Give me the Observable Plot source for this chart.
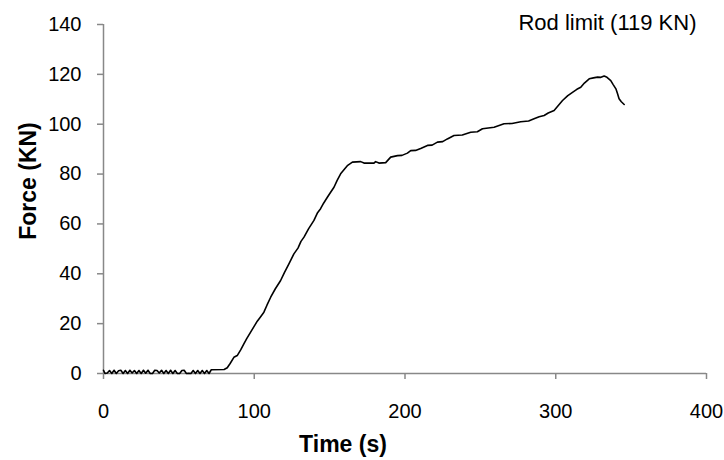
<!DOCTYPE html>
<html>
<head>
<meta charset="utf-8">
<script src="https://cdn.jsdelivr.net/npm/d3@7"></script>
<script src="https://cdn.jsdelivr.net/npm/@observablehq/plot@0.6"></script>
<style>
  html, body { margin: 0; padding: 0; background: #fff; }
</style>
</head>
<body>
<div id="chart"></div>
<script>
const time = [
  0,1,2.5,4,5.5,7,8.5,10,11.5,13,
  14.5,16,17.5,19,20.5,22,23.5,25,26.5,28,
  29.5,31,32.5,34,35.5,37,38.5,40,41.5,43,
  44.5,46,47.5,49,50.5,52,53.5,55,56.5,58,
  59.5,61,62.5,64,65.5,67,68.5,70,71.5,80,
  82.1,84,86.5,88.7,91,93.1,95,97.6,100,102,
  104,106.4,108.5,110.9,114,117.5,120,123,126.3,129,
  131,133,136,139.6,142,144,146,148.5,151,152.9,
  155,157.3,159.5,162,165.1,170.6,172.8,179.4,180.5,182.7,
  187.2,190.5,195,198,201.6,203.8,207,210.4,214.9,218,
  221.5,225,228.1,232.5,238,243.6,248,251.4,259.1,265.7,
  271,276.8,282,285.6,289,292.3,295,298.9,301,304.5,
  308,311.1,314,316.6,319,322.2,325,327.7,330,332.1,
  334,336.5,338,339.9,341,342,343.5,345.4
];
const force = [
  1.3,0,0.2,1.2,0,1.3,0,1.1,1.3,0,
  1.2,0,1.3,0.2,1.2,0,1.2,0,1.3,0.1,
  1.3,0,0,1.3,1.2,0.2,1.3,0,1.2,0,
  1.3,0,1.2,0,0,1.2,1.3,0,0.1,0,
  1.2,0,1.2,0,1.2,0,1.2,0,1.5,1.6,
  2.3,4,6.5,7.2,9.5,11.9,14,16.6,19,21,
  22.6,24.6,27.5,30.6,34,37.3,40.5,44,48,50.3,
  53,54.7,58,61.4,64.5,66.1,68.3,70.7,73,74.7,
  77.5,80.1,81.7,83.5,84.8,85,84.4,84.4,85,84.4,
  84.6,86.8,87.4,87.5,88.4,89.4,89.5,90.3,91.5,91.6,
  92.8,93,94.1,95.5,95.7,96.8,97,98.2,98.8,100.2,
  100.3,101,101.3,102.2,103,103.5,104.5,105.5,107,109.5,
  111.5,112.8,114,114.8,116.5,118.2,118.6,118.9,118.8,119.3,
  118.8,117.5,116,114.2,112.2,110.2,109,107.9
];
const xTicks = [0, 100, 200, 300, 400];
const yTicks = [0, 20, 40, 60, 80, 100, 120, 140];
const xTitle = "Time (s)";
const yTitle = "Force (KN)";
const annotation = "Rod limit (119 KN)";

const data = time.map((t, i) => ({t, f: force[i]}));

const chart = Plot.plot({
  width: 724,
  height: 460,
  marginLeft: 103,
  marginRight: 18,
  marginTop: 24,
  marginBottom: 87,
  style: {fontFamily: "'Liberation Sans', Arial, sans-serif", fontSize: "20px", color: "#000", background: "#fff", overflow: "visible"},
  x: {domain: [0, 400], ticks: xTicks},
  y: {domain: [0, 140], ticks: yTicks},
  marks: [
    Plot.axisX({ticks: xTicks, tickSize: 6, tickPadding: 24, stroke: "#888", strokeWidth: 1.5, fill: "#000", fontSize: 20, label: null}),
    Plot.axisY({ticks: yTicks, tickSize: 6, tickPadding: 16, stroke: "#888", strokeWidth: 1.5, fill: "#000", fontSize: 20, label: null}),
    Plot.ruleX([0], {stroke: "#888", strokeWidth: 1.5}),
    Plot.ruleY([0], {stroke: "#888", strokeWidth: 1.5}),
    Plot.line(data, {x: "t", y: "f", stroke: "#000", strokeWidth: 1.6}),
    Plot.text([xTitle], {frameAnchor: "bottom", textAnchor: "middle", dx: -62, dy: 71, lineAnchor: "middle", fontWeight: "bold", fontSize: 23, fill: "#000"}),
    Plot.text([yTitle], {frameAnchor: "left", textAnchor: "middle", rotate: -90, dx: -75, dy: -18, lineAnchor: "middle", fontWeight: "bold", fontSize: 23, fill: "#000"}),
    Plot.text([annotation], {frameAnchor: "top-right", textAnchor: "end", lineAnchor: "middle", dx: -10, dy: -2, fontSize: 22, fill: "#000"})
  ]
});
document.getElementById("chart").appendChild(chart);
</script>
</body>
</html>
